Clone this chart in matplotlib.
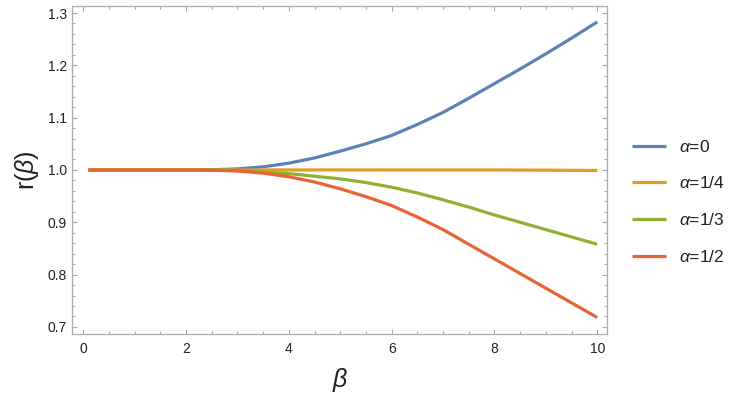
import matplotlib
matplotlib.use('Agg')
import matplotlib.pyplot as plt
from matplotlib.ticker import MultipleLocator, FormatStrFormatter

plt.rcParams['font.family'] = ['Liberation Sans', 'DejaVu Sans']
plt.rcParams['mathtext.fontset'] = 'custom'
plt.rcParams['mathtext.rm'] = 'Liberation Sans'
plt.rcParams['mathtext.it'] = 'Liberation Sans:italic'

# values
beta = [0.1, 0.5, 1.0, 1.5, 2.0, 2.5, 3.0, 3.5, 4.0, 4.5, 5.0,
        5.5, 6.0, 6.5, 7.0, 7.5, 8.0, 8.5, 9.0, 9.5, 10.0]
r_a0 = [1.0, 1.0, 1.0, 1.0, 1.0, 1.0005, 1.002, 1.006, 1.013, 1.023, 1.036,
        1.050, 1.066, 1.087, 1.110, 1.137, 1.165, 1.193, 1.222, 1.252, 1.283]
r_a14 = [1.0, 1.0, 1.0, 1.0, 1.0, 1.0, 1.0, 1.0, 1.0, 1.0, 1.0,
         1.0, 1.0, 1.0, 1.0, 1.0, 1.0, 0.9998, 0.9996, 0.9993, 0.999]
r_a13 = [1.0, 1.0, 1.0, 1.0, 1.0, 0.9998, 0.999, 0.996, 0.993, 0.988, 0.983,
         0.976, 0.967, 0.956, 0.943, 0.929, 0.914, 0.900, 0.886, 0.872, 0.858]
r_a12 = [1.0, 1.0, 1.0, 1.0, 1.0, 0.9995, 0.998, 0.994, 0.987, 0.977, 0.964,
         0.949, 0.932, 0.910, 0.886, 0.858, 0.830, 0.802, 0.774, 0.746, 0.718]

series = [r_a0, r_a14, r_a13, r_a12]
labels = [r'$\alpha$=0', r'$\alpha$=1/4', r'$\alpha$=1/3', r'$\alpha$=1/2']
colors = ['#5E81B5', '#E19C24', '#8FB032', '#EB6235']

frame_col = '#aaaaaa'
text_col = '#222222'

fig = plt.figure(figsize=(7.47, 4.07), dpi=100)
ax = fig.add_axes([0.097, 0.1794, 0.7156, 0.806])

for ys, lab, c in zip(series, labels, colors):
    ax.plot(beta, ys, color=c, lw=2.3, label=lab, solid_capstyle='butt')

ax.set_xlim(-0.21, 10.19)
ax.set_ylim(0.6865, 1.3135)

ax.xaxis.set_major_locator(MultipleLocator(2))
ax.xaxis.set_minor_locator(MultipleLocator(0.5))
ax.yaxis.set_major_locator(MultipleLocator(0.1))
ax.yaxis.set_minor_locator(MultipleLocator(0.02))
ax.yaxis.set_major_formatter(FormatStrFormatter('%.1f'))

for s in ax.spines.values():
    s.set_color(frame_col)
    s.set_linewidth(0.9)
ax.tick_params(which='both', direction='in', top=True, right=True,
               color=frame_col, width=0.8)
ax.tick_params(which='major', length=3.8, labelsize=10, labelcolor=text_col)
ax.tick_params(which='minor', length=2.0)
ax.tick_params(axis='x', which='major', pad=6)
ax.tick_params(axis='y', which='major', pad=4)

ax.set_xlabel(r'$\beta$', fontsize=18, color=text_col, labelpad=7)
ax.set_ylabel(r'r($\beta$)', fontsize=18, color=text_col, labelpad=5)

fig.legend(loc='center left', bbox_to_anchor=(0.846, 0.504),
           frameon=False, fontsize=12.5, handlelength=1.95,
           handletextpad=0.75, labelspacing=1.2, borderpad=0,
           borderaxespad=0, labelcolor=text_col)

fig.savefig('out.png', dpi=100)
